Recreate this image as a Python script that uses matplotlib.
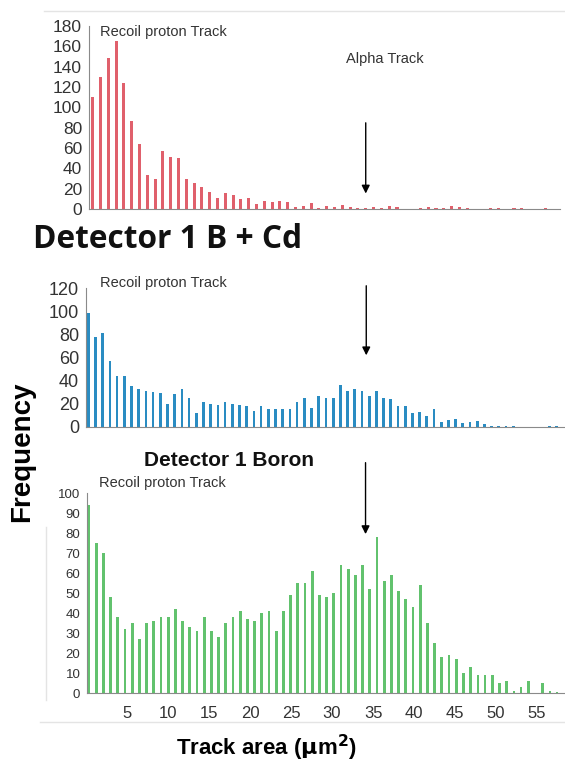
import matplotlib
matplotlib.use('Agg')
import matplotlib.pyplot as plt
from matplotlib.lines import Line2D
import numpy as np

plt.rcParams['font.family'] = ['Liberation Sans', 'DejaVu Sans']

W, H = 565, 763

# Frequencies per track-area bin
freq_bcd = [110, 130, 149, 165, 124, 87, 64, 33, 30, 57, 51, 50, 30, 26, 22, 17,
            11, 16, 14, 10, 11, 5, 8, 7, 8, 7, 2, 3, 6, 1, 3, 2, 4, 2, 1, 1,
            2, 1, 3, 2, 0, 0, 1, 2, 1, 1, 3, 2, 1, 0, 0, 1, 1, 0, 1, 1, 0, 0, 1]
freq_boron = [99, 78, 81, 57, 44, 44, 35, 33, 31, 30, 29, 20, 28, 33, 25, 12,
              21, 20, 19, 21, 20, 19, 18, 14, 18, 15, 15, 15, 15, 21, 25, 16,
              27, 25, 25, 36, 31, 33, 31, 27, 31, 25, 24, 18, 18, 12, 13, 9,
              15, 4, 6, 7, 3, 4, 5, 2, 1, 1, 1, 0.5, 0, 0, 0, 0, 0.5, 0.5]
freq_boron2 = [94, 75, 70, 48, 38, 32, 35, 27, 35, 36, 38, 38, 42, 36, 33, 31,
               38, 31, 28, 35, 38, 41, 37, 36, 40, 41, 31, 41, 49, 55, 55, 61,
               49, 48, 50, 64, 62, 59, 64, 52, 78, 56, 59, 51, 47, 43, 54, 35,
               25, 18, 19, 17, 10, 13, 9, 9, 9, 5, 6, 1, 3, 6, 0, 5, 1, 0.5]
area_ticks = [5, 10, 15, 20, 25, 30, 35, 40, 45, 50, 55]

red = '#e0606c'
blue = '#2a8cc2'
green = '#62c26e'
grey_txt = '#333333'
spine_c = '#8a8a8a'


def fx(x):
    return x / W


def fy(y):
    return 1 - y / H


def setup(ax, ylim, yticks, fs):
    ax.set_ylim(*ylim)
    ax.set_yticks(yticks)
    ax.tick_params(axis='y', length=0, pad=5, labelsize=fs, labelcolor=grey_txt)
    ax.tick_params(axis='x', length=0)
    for s in ['top', 'right']:
        ax.spines[s].set_visible(False)
    ax.spines['left'].set_color(spine_c)
    ax.spines['bottom'].set_color(spine_c)
    ax.set_facecolor('none')


fig = plt.figure(figsize=(W / 100, H / 100), dpi=100)

# Top panel: Detector 1 B + Cd
ax1 = fig.add_axes([fx(89), fy(209), fx(560) - fx(89), (209 - 26) / H])
x1 = np.arange(1, len(freq_bcd) + 1)
ax1.bar(x1, freq_bcd, width=0.4, color=red)
ax1.set_xlim(0.53, 60.9)
setup(ax1, (0, 180), np.arange(0, 181, 20), 12.5)
ax1.set_xticks([])
ax1.annotate('', xy=(36.0, 12.5), xytext=(36.0, 87.5),
             arrowprops=dict(arrowstyle='-|>', color='black', lw=1, mutation_scale=12))

# Middle panel: Detector 1 Boron
ax2 = fig.add_axes([fx(86), fy(426.7), fx(565) - fx(86), (426.7 - 288.3) / H])
x2 = np.arange(1, len(freq_boron) + 1)
ax2.bar(x2, freq_boron, width=0.38, color=blue)
ax2.set_xlim(0.68, 67.2)
setup(ax2, (0, 120), np.arange(0, 121, 20), 13)
ax2.set_xticks([])
ax2.annotate('', xy=(39.6, 59.5), xytext=(39.6, 124.6),
             arrowprops=dict(arrowstyle='-|>', color='black', lw=1, mutation_scale=12),
             annotation_clip=False)

# Bottom panel
ax3 = fig.add_axes([fx(87.3), fy(693.3), fx(565) - fx(87.3), 200 / H])
x3 = np.arange(1, len(freq_boron2) + 1)
ax3.bar(x3, freq_boron2, width=0.38, color=green)
ax3.set_xlim(0.76, 67.1)
setup(ax3, (0, 100), np.arange(0, 101, 10), 9.5)
# tick labels sit on their own (slightly wider) scale in the original
ax3.set_xticks([0.58 + 1.139 * t for t in area_ticks])
ax3.set_xticklabels([str(t) for t in area_ticks])
ax3.tick_params(axis='x', length=0, pad=9, labelsize=12, labelcolor=grey_txt)
ax3.annotate('', xy=(39.4, 78.2), xytext=(39.4, 116.7),
             arrowprops=dict(arrowstyle='-|>', color='black', lw=1, mutation_scale=12),
             annotation_clip=False)

# Texts
tkw = dict(fontsize=10.5, color=grey_txt, va='center', ha='left')
fig.text(fx(100), fy(32), 'Recoil proton Track', **tkw)
fig.text(fx(100), fy(283), 'Recoil proton Track', **tkw)
fig.text(fx(99), fy(483), 'Recoil proton Track', **tkw)
fig.text(fx(346), fy(59), 'Alpha Track', **tkw)

fig.text(fx(33), fy(240), 'Detector 1 B + Cd', fontsize=22.8, fontweight='bold',
         family=['Open Sans', 'DejaVu Sans'], va='center', ha='left', color='#111111')
fig.text(fx(229), fy(460), 'Detector 1 Boron', fontsize=15, fontweight='bold',
         va='center', ha='center', color='#111111')
fig.text(fx(22), fy(452), 'Frequency', fontsize=20, fontweight='bold',
         rotation=90, va='center', ha='center', color='black')
fig.text(fx(266), fy(748), r'Track area ($\mathbf{\mu}$m$^\mathbf{2}$)', fontsize=16,
         fontweight='bold', va='center', ha='center', color='black')

# faint frame lines of the composite image
line_c = '#e4e4e4'
fig.add_artist(Line2D([fx(44), fx(565)], [fy(11), fy(11)], color=line_c, lw=1))
fig.add_artist(Line2D([fx(40), fx(565)], [fy(722), fy(722)], color=line_c, lw=1))
fig.add_artist(Line2D([fx(46), fx(46)], [fy(527), fy(700)], color=line_c, lw=1))

fig.savefig('out.png', dpi=100)
